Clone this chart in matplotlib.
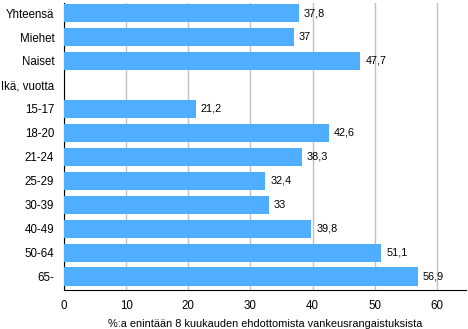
import matplotlib
matplotlib.use("Agg")
import matplotlib.pyplot as plt

categories = ["Yhteensä", "Miehet", "Naiset", "Ikä, vuotta", "15-17", "18-20", "21-24",
              "25-29", "30-39", "40-49", "50-64", "65-"]
values = [37.8, 37, 47.7, None, 21.2, 42.6, 38.3, 32.4, 33, 39.8, 51.1, 56.9]
xticks = [0, 10, 20, 30, 40, 50, 60]
xlabel = "%:a enintään 8 kuukauden ehdottomista vankeusrangaistuksista"

plt.rcParams['font.family'] = ['Liberation Sans', 'DejaVu Sans']

fig = plt.figure(figsize=(4.68, 3.29), dpi=100)
ax = fig.add_axes([64/468, 1-290/329, (466-64)/468, 287/329])

n = len(categories)
for i, (c, v) in enumerate(zip(categories, values)):
    if v is None:
        continue
    ax.barh(i, v, height=0.76, color='#4faeff', zorder=3)
    lab = f"{v:g}".replace('.', ',')
    ax.text(v + 0.8, i, lab, va='center', ha='left', fontsize=7.8, color='black', zorder=4)

ax.set_ylim(11.56, -0.42)
ax.set_xlim(0, 64.7)
ax.set_yticks(range(n))
ax.set_yticklabels(categories, fontsize=8.3)
ax.set_xticks(xticks)
ax.set_xticklabels([str(t) for t in xticks], fontsize=8.3)
ax.tick_params(axis='y', length=0, pad=7)
ax.tick_params(axis='x', length=0, pad=7)
ax.grid(axis='x', color='#c0c0c0', linewidth=1, zorder=0)
for s in ['top', 'right']:
    ax.spines[s].set_visible(False)
ax.spines['left'].set_color('black')
ax.spines['bottom'].set_color('black')
ax.set_xlabel(xlabel, fontsize=7.9, labelpad=5)

fig.savefig("out.png", dpi=100)
